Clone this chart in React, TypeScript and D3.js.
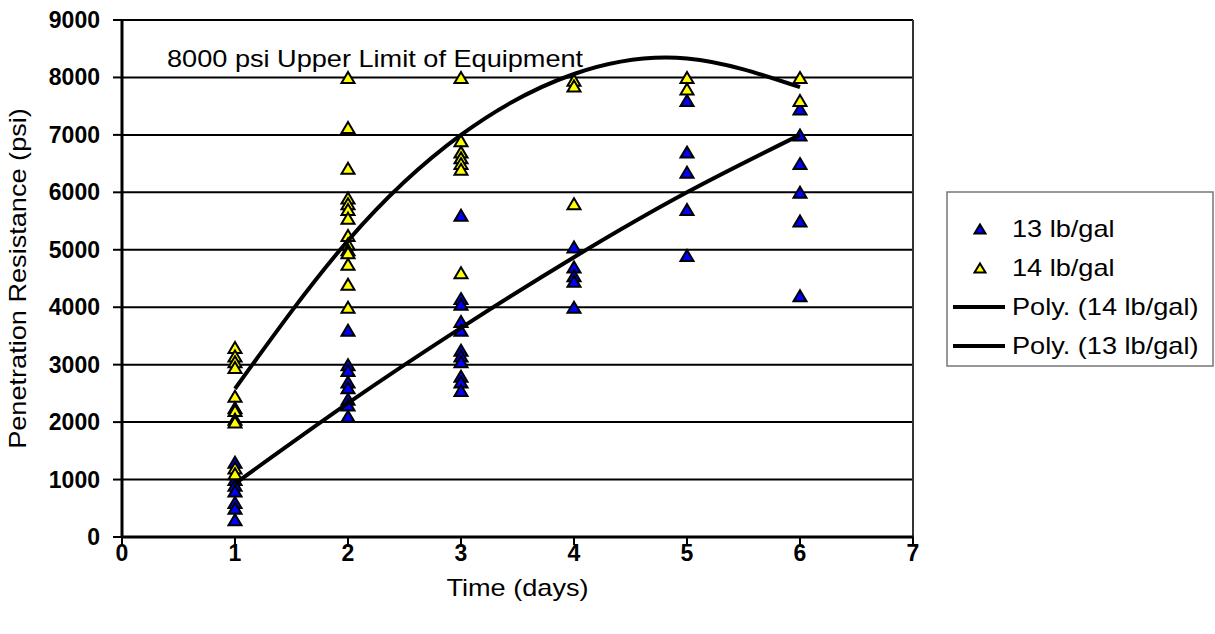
import React from "react";
import * as d3 from "d3";

// scatter values (days, psi)
const days13 = [1, 1, 1, 1, 1, 1, 1, 2, 2, 2, 2, 2, 2, 2, 2, 3, 3, 3, 3, 3, 3, 3, 3, 3, 3, 3, 4, 4, 4, 4, 4, 5, 5, 5, 5, 5, 6, 6, 6, 6, 6, 6];
const psi13 = [1300, 1000, 900, 800, 600, 500, 300, 3600, 3000, 2900, 2700, 2600, 2400, 2300, 2100, 5600, 4150, 4050, 3750, 3600, 3250, 3150, 3050, 2800, 2700, 2550, 5050, 4700, 4550, 4450, 4000, 7600, 6700, 6350, 5700, 4900, 7450, 7000, 6500, 6000, 5500, 4200];

const days14 = [1, 1, 1, 1, 1, 1, 1, 1, 1, 1, 1, 2, 2, 2, 2, 2, 2, 2, 2, 2, 2, 2, 2, 2, 2, 3, 3, 3, 3, 3, 3, 3, 4, 4, 4, 5, 5, 6, 6];
const psi14 = [3300, 3150, 3050, 2950, 2450, 2250, 2200, 2050, 2000, 1200, 1100, 8000, 7130, 6420, 5900, 5800, 5700, 5550, 5250, 5100, 5000, 4950, 4750, 4400, 4000, 8000, 6900, 6700, 6600, 6500, 6400, 4600, 7950, 7850, 5800, 8000, 7800, 8000, 7600];

// polynomial trendlines as they appear on the chart
const trendDays = [1, 2, 3, 4, 5, 6];
const trend14 = [2580, 5160, 7000, 8060, 8330, 7830];
const trend13 = [930, 2330, 3640, 4870, 6000, 7000];

const xTicks = [0, 1, 2, 3, 4, 5, 6, 7];
const yTicks = [0, 1000, 2000, 3000, 4000, 5000, 6000, 7000, 8000, 9000];

const legendItems = [
  { label: "13 lb/gal", kind: "marker", fill: "#0000FF" },
  { label: "14 lb/gal", kind: "marker", fill: "#FFFF00" },
  { label: "Poly. (14 lb/gal)", kind: "line", fill: "none" },
  { label: "Poly. (13 lb/gal)", kind: "line", fill: "none" },
];

const W = 1215;
const H = 634;
const plot = { left: 122, right: 913, top: 20, bottom: 537 };
const font = "'Liberation Sans', Arial, sans-serif";
const stretch = 1.18; // text in the picture is a bit wide
const tri = "M0,-5.5L6.5,5.5L-6.5,5.5Z";

function Txt({ x, y, size = 23, bold = false, anchor = "start", rotate = 0, children }) {
  return (
    <text
      transform={`translate(${x},${y}) rotate(${rotate}) scale(${bold ? 1 : stretch},1)`}
      fontFamily={font}
      fontSize={size}
      fontWeight={bold ? "bold" : "normal"}
      textAnchor={anchor}
      fill="#000"
    >
      {children}
    </text>
  );
}

export default function App() {
  const x = d3.scaleLinear().domain([0, 7]).range([plot.left, plot.right]);
  const y = d3.scaleLinear().domain([0, 9000]).range([plot.bottom, plot.top]);

  const line = d3
    .line<number>()
    .x((_, i) => x(trendDays[i]))
    .y((d) => y(d))
    .curve(d3.curveNatural);

  const legendX = 947;
  const legendY = 192;
  const rowH = 39;

  return (
    <svg width={W} height={H} style={{ display: "block", position: "absolute", left: 0, top: 0 }}>
      <rect width={W} height={H} fill="#fff" />

      {/* gridlines */}
      {yTicks.map((t) => (
        <line key={"g" + t} x1={plot.left} x2={plot.right} y1={y(t)} y2={y(t)} stroke="#000" strokeWidth={2} />
      ))}
      {/* right border */}
      <line x1={plot.right} x2={plot.right} y1={plot.top} y2={plot.bottom} stroke="#333" strokeWidth={2} />

      {/* axes */}
      <line x1={plot.left} x2={plot.left} y1={plot.top} y2={plot.bottom + 1} stroke="#000" strokeWidth={3} />
      <line x1={plot.left} x2={plot.right} y1={plot.bottom} y2={plot.bottom} stroke="#000" strokeWidth={3} />
      {yTicks.map((t) => (
        <g key={"y" + t}>
          <line x1={plot.left - 9} x2={plot.left} y1={y(t)} y2={y(t)} stroke="#000" strokeWidth={2} />
          <Txt x={plot.left - 22} y={y(t) + 8} bold anchor="end">{t}</Txt>
        </g>
      ))}
      {xTicks.map((t) => (
        <g key={"x" + t}>
          <line x1={x(t)} x2={x(t)} y1={plot.bottom} y2={plot.bottom + 8} stroke="#000" strokeWidth={2} />
          <Txt x={x(t)} y={561} bold anchor="middle">{t}</Txt>
        </g>
      ))}

      <Txt x={(plot.left + plot.right) / 2} y={596} anchor="middle">Time (days)</Txt>
      <Txt x={26} y={(plot.top + plot.bottom) / 2} anchor="middle" rotate={-90}>Penetration Resistance (psi)</Txt>
      <Txt x={167} y={67}>8000 psi Upper Limit of Equipment</Txt>

      {/* markers */}
      {psi13.map((v, i) => (
        <path key={"b" + i} d={tri} transform={`translate(${x(days13[i])},${y(v)})`} fill="#0000FF" stroke="#000" strokeWidth={2} strokeLinejoin="miter" />
      ))}
      {psi14.map((v, i) => (
        <path key={"yl" + i} d={tri} transform={`translate(${x(days14[i])},${y(v)})`} fill="#FFFF00" stroke="#000" strokeWidth={2} strokeLinejoin="miter" />
      ))}

      {/* trendlines */}
      <path d={line(trend14) || ""} fill="none" stroke="#000" strokeWidth={4} />
      <path d={line(trend13) || ""} fill="none" stroke="#000" strokeWidth={4} />

      {/* legend */}
      <rect x={legendX} y={legendY} width={266} height={174} fill="#fff" stroke="#777" strokeWidth={1.5} />
      {legendItems.map((it, i) => {
        const cy = legendY + 37 + i * rowH;
        return (
          <g key={it.label}>
            {it.kind === "marker" ? (
              <path d="M0,-4.5L5.5,4.5L-5.5,4.5Z" transform={`translate(980,${cy})`} fill={it.fill} stroke="#000" strokeWidth={2} />
            ) : (
              <line x1={953} x2={1005} y1={cy} y2={cy} stroke="#000" strokeWidth={4} />
            )}
            <Txt x={1012} y={cy + 8}>{it.label}</Txt>
          </g>
        );
      })}
    </svg>
  );
}
